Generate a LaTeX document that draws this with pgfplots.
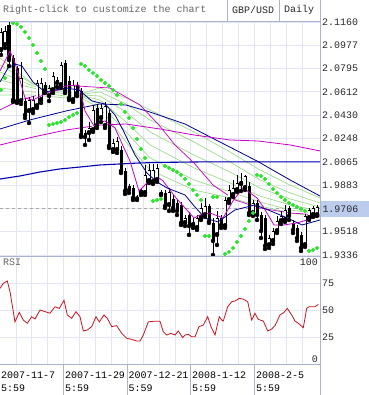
\documentclass[border=0pt]{standalone}
\usepackage{pgfplots}
\pgfplotsset{compat=1.18}
\usepackage{pgfplotstable}
\usepackage{fontspec}
\setmainfont{Liberation Sans}
\setmonofont{Liberation Mono}
\definecolor{framec}{RGB}{170,180,210}
\definecolor{gridc}{RGB}{226,230,243}
\definecolor{mag}{RGB}{200,0,200}
\definecolor{navyc}{RGB}{0,0,140}
\definecolor{longnavy}{RGB}{0,0,175}
\definecolor{lgreen}{RGB}{160,220,140}
\definecolor{sarc}{RGB}{40,230,40}
\definecolor{rsic}{RGB}{200,20,30}
\definecolor{curbg}{RGB}{188,204,236}
\definecolor{txt}{RGB}{40,40,40}

\pgfplotstableread{
x O H L C
1 2.0941 2.1113 2.0902 2.1082
5 2.0980 2.1129 2.0956 2.1090
9 2.1137 2.1160 2.0815 2.0862
13 2.0878 2.0902 2.0534 2.0549
17 2.0800 2.0815 2.0526 2.0541
21 2.0541 2.0847 2.0518 2.0721
25 2.0541 2.0565 2.0408 2.0432
29 2.0463 2.0573 2.0369 2.0549
33 2.0471 2.0580 2.0447 2.0549
37 2.0502 2.0706 2.0487 2.0682
41 2.0549 2.0721 2.0526 2.0682
45 2.0667 2.0690 2.0604 2.0627
49 2.0580 2.0667 2.0541 2.0643
53 2.0627 2.0768 2.0604 2.0737
57 2.0706 2.0729 2.0651 2.0682
61 2.0667 2.0847 2.0643 2.0823
65 2.0839 2.0862 2.0604 2.0620
69 2.0698 2.0737 2.0549 2.0565
73 2.0549 2.0706 2.0534 2.0667
77 2.0667 2.0690 2.0580 2.0604
81 2.0620 2.0643 2.0259 2.0275
85 2.0291 2.0314 2.0197 2.0259
89 2.0291 2.0377 2.0236 2.0330
93 2.0314 2.0510 2.0299 2.0471
97 2.0487 2.0518 2.0330 2.0353
101 2.0408 2.0518 2.0377 2.0487
105 2.0346 2.0534 2.0330 2.0502
109 2.0447 2.0471 2.0173 2.0189
113 2.0158 2.0244 2.0142 2.0212
117 2.0158 2.0259 2.0134 2.0228
121 2.0158 2.0189 1.9977 1.9993
125 1.9993 2.0017 1.9813 1.9836
129 1.9876 1.9891 1.9821 1.9844
133 1.9860 1.9883 1.9766 1.9782
137 1.9789 1.9805 1.9766 1.9778
141 1.9821 1.9860 1.9805 1.9844
145 1.9821 2.0040 1.9805 1.9962
149 1.9915 2.0048 1.9899 2.0001
153 1.9907 2.0048 1.9891 2.0001
157 1.9923 2.0048 1.9907 2.0017
161 1.9829 1.9844 1.9805 1.9813
165 1.9821 1.9844 1.9703 1.9719
169 1.9727 1.9860 1.9680 1.9829
173 1.9774 1.9805 1.9680 1.9703
177 1.9742 1.9766 1.9648 1.9680
181 1.9727 1.9750 1.9570 1.9586
185 1.9586 1.9648 1.9562 1.9625
189 1.9648 1.9672 1.9492 1.9562
193 1.9570 1.9625 1.9547 1.9594
197 1.9547 1.9648 1.9531 1.9625
201 1.9625 1.9742 1.9609 1.9703
205 1.9648 1.9782 1.9633 1.9719
209 1.9719 1.9735 1.9586 1.9601
213 1.9586 1.9625 1.9335 1.9445
217 1.9492 1.9680 1.9413 1.9625
221 1.9625 1.9648 1.9547 1.9570
225 1.9562 1.9789 1.9547 1.9766
229 1.9766 1.9883 1.9742 1.9844
233 1.9805 1.9923 1.9789 1.9860
237 1.9844 1.9962 1.9829 1.9899
241 1.9891 1.9977 1.9836 1.9915
245 1.9860 1.9962 1.9844 1.9954
249 1.9876 1.9907 1.9648 1.9664
253 1.9664 1.9766 1.9641 1.9742
257 1.9742 1.9766 1.9609 1.9648
261 1.9648 1.9672 1.9468 1.9523
265 1.9625 1.9648 1.9382 1.9406
269 1.9413 1.9492 1.9390 1.9468
273 1.9445 1.9547 1.9421 1.9523
277 1.9523 1.9641 1.9507 1.9601
281 1.9601 1.9680 1.9578 1.9641
285 1.9609 1.9727 1.9594 1.9688
289 1.9703 1.9719 1.9609 1.9641
293 1.9586 1.9609 1.9507 1.9531
297 1.9547 1.9570 1.9445 1.9468
301 1.9492 1.9515 1.9366 1.9390
305 1.9413 1.9656 1.9398 1.9641
309 1.9625 1.9703 1.9609 1.9688
313 1.9648 1.9719 1.9633 1.9703
317 1.9648 1.9727 1.9641 1.9711
}\ohlc

\begin{document}
\begin{tikzpicture}
\path[use as bounding box] (0,0) rectangle (369bp,395bp);
\fill[white] (0,0) rectangle (369bp,395bp);

% ---------------- price panel ----------------
\begin{axis}[
  at={(0bp,139bp)}, anchor=south west,
  scale only axis, width=320bp, height=235bp,
  xmin=0, xmax=320, ymin=1.9327, ymax=2.1168,
  axis line style={draw=none},
  xtick={15.9,31.8,47.7,63.6,79.5,95.4,111.3,127.2,143.1,159,174.9,190.8,206.7,222.6,238.5,254.4,270.3,286.2,302.1},
  xticklabels={},
  ytick={2.1160,2.0978,2.0795,2.0613,2.0430,2.0248,2.0065,1.9883,1.9701,1.9518,1.9336},
  yticklabels={2.1160,2.0977,2.0795,2.0612,2.0430,2.0248,2.0065,1.9883,,1.9518,1.9336},
  yticklabel pos=right,
  major tick length=0,
  grid=major, grid style={gridc, line width=0.7bp},
  yticklabel style={font=\ttfamily\fontsize{10}{12}\selectfont, text=txt, inner sep=2bp},
  clip=true,
]
% current price dashed line
\addplot[gray!70, dashed, dash pattern=on 3bp off 3bp, line width=0.6bp] coordinates {(0,1.9703) (320,1.9703)};
% light green ribbon
\addplot[lgreen, line width=0.7bp] coordinates {(0,2.0588)(33,2.0588)(66,2.0565)(100,2.0643)(126,2.0565)(150,2.0471)(194,2.0299)(230,2.0142)(260,2.0001)(290,1.9883)(320,1.9782)};
\addplot[lgreen, line width=0.7bp] coordinates {(0,2.0643)(33,2.0612)(66,2.0580)(100,2.0612)(126,2.0518)(150,2.0393)(194,2.0220)(230,2.0064)(260,1.9923)(290,1.9821)(320,1.9742)};
\addplot[lgreen, line width=0.7bp] coordinates {(0,2.0706)(33,2.0643)(66,2.0596)(100,2.0580)(126,2.0455)(150,2.0299)(194,2.0118)(230,1.9985)(260,1.9860)(290,1.9774)(320,1.9711)};
\addplot[lgreen, line width=0.7bp] coordinates {(0,2.0768)(33,2.0659)(66,2.0612)(100,2.0549)(126,2.0377)(150,2.0197)(194,2.0017)(230,1.9899)(260,1.9797)(290,1.9727)(320,1.9680)};
\addplot[lgreen, line width=0.7bp] coordinates {(0,2.0823)(33,2.0674)(66,2.0627)(100,2.0518)(126,2.0299)(150,2.0095)(194,1.9923)(230,1.9829)(260,1.9750)(290,1.9688)(320,1.9656)};
\addplot[lgreen, line width=0.7bp] coordinates {(0,2.0878)(33,2.0674)(66,2.0627)(100,2.0487)(126,2.0220)(150,2.0001)(194,1.9844)(230,1.9782)(260,1.9719)(290,1.9664)(320,1.9633)};
% long navy
\addplot[longnavy, line width=1.1bp] coordinates {(0,1.9930)(20,1.9954)(40,1.9985)(60,2.0009)(80,2.0024)(100,2.0040)(120,2.0048)(140,2.0056)(160,2.0060)(200,2.0064)(260,2.0064)(320,2.0064)};
% mid navy
\addplot[navyc, line width=0.8bp] coordinates {(0,2.0322)(30,2.0393)(66,2.0463)(100,2.0518)(126,2.0510)(150,2.0455)(185,2.0361)(220,2.0220)(257,2.0071)(290,1.9923)(320,1.9797)};
% long magenta
\addplot[mag, line width=0.8bp] coordinates {(0,2.0197)(33,2.0259)(66,2.0314)(100,2.0353)(126,2.0361)(160,2.0322)(194,2.0275)(230,2.0236)(258,2.0228)(290,2.0197)(320,2.0150)};
% medium magenta
\addplot[mag, line width=0.7bp] coordinates {(0,2.0471)(20,2.0549)(50,2.0612)(77,2.0659)(110,2.0643)(140,2.0510)(159,2.0353)(175,2.0197)(194,2.0056)(213,1.9883)(235,1.9766)(260,1.9703)(290,1.9664)(320,1.9648)};
% candles: wicks
\addplot[only marks, mark=none, error bars/.cd, y dir=plus, y explicit, error mark=none,
  error bar style={draw=black, line width=0.9bp}]
  table[x=x, y=L, y error plus expr={\thisrow{H}-\thisrow{L}}] {\ohlc};
% bodies
\addplot[only marks, mark=none, error bars/.cd, y dir=plus, y explicit, error mark=none,
  error bar style={draw=black, line width=3bp}]
  table[x=x, y expr={min(\thisrow{O},\thisrow{C})}, y error plus expr={abs(\thisrow{C}-\thisrow{O})}] {\ohlc};
% white inner bodies
\addplot[only marks, mark=none, restrict expr to domain={\thisrow{C}-\thisrow{O}}{0.0013:1},
  error bars/.cd, y dir=plus, y explicit, error mark=none,
  error bar style={draw=white, line width=1.5bp}]
  table[x=x, y expr={\thisrow{O}+0.0006}, y error plus expr={\thisrow{C}-\thisrow{O}-0.0012}] {\ohlc};
% short magenta
\addplot[mag, line width=0.8bp] coordinates {(0,2.0776)(10,2.0933)(15,2.0839)(25,2.0565)(33,2.0549)(53,2.0627)(66,2.0659)(79,2.0667)(85,2.0463)(94,2.0346)(99,2.0369)(105,2.0385)(115,2.0330)(124,2.0173)(130,2.0071)(139,1.9836)(149,1.9915)(159,1.9938)(163,1.9915)(176,1.9782)(194,1.9625)(200,1.9648)(210,1.9664)(223,1.9625)(233,1.9758)(243,1.9860)(257,1.9782)(264,1.9703)(274,1.9570)(284,1.9570)(297,1.9586)(307,1.9609)(320,1.9641)};
% short navy
\addplot[navyc, line width=0.8bp] coordinates {(0,2.0690)(8,2.0800)(15,2.0831)(22,2.0815)(33,2.0690)(45,2.0612)(66,2.0643)(79,2.0627)(92,2.0541)(105,2.0518)(115,2.0432)(123,2.0314)(135,2.0118)(147,1.9977)(157,1.9907)(167,1.9860)(185,1.9805)(195,1.9711)(205,1.9625)(218,1.9594)(235,1.9688)(255,1.9727)(268,1.9688)(285,1.9633)(302,1.9570)(320,1.9609)};
% parabolic SAR
\addplot[only marks, mark=*, mark size=1.8bp, sarc, mark options={draw=sarc, fill=sarc}] coordinates {
(1,2.0627)(5,2.0721)
(13,2.1152)(17,2.1144)(21,2.1121)(25,2.1082)(29,2.1035)(33,2.0980)(37,2.0917)(41,2.0855)(45,2.0792)
(49,2.0353)(53,2.0361)(57,2.0369)(61,2.0377)(65,2.0393)(69,2.0416)(73,2.0432)(77,2.0447)
(81,2.0831)(85,2.0815)(89,2.0784)(93,2.0761)(97,2.0737)(101,2.0706)(105,2.0682)(109,2.0659)(113,2.0627)(117,2.0588)(121,2.0518)(125,2.0455)(129,2.0408)(133,2.0330)(137,2.0244)(141,2.0165)(145,2.0095)
(153,1.9758)(157,1.9766)(161,1.9774)
(165,2.0032)(169,2.0017)(173,2.0001)(177,1.9985)(181,1.9962)(185,1.9930)(189,1.9891)(193,1.9844)(197,1.9805)(201,1.9766)
(205,1.9484)(209,1.9484)
(213,1.9789)(217,1.9789)
(225,1.9343)(229,1.9359)(233,1.9390)(237,1.9437)(241,1.9484)(245,1.9539)(249,1.9601)(253,1.9664)
(257,1.9962)(261,1.9954)(265,1.9930)(269,1.9891)(273,1.9852)(277,1.9821)(281,1.9789)(285,1.9766)(289,1.9742)(293,1.9727)(297,1.9711)(301,1.9695)(305,1.9680)
(309,1.9366)(313,1.9374)(317,1.9390)};
\end{axis}

% ---------------- RSI panel ----------------
\begin{axis}[
  at={(0bp,31bp)}, anchor=south west,
  scale only axis, width=320bp, height=108bp,
  xmin=0, xmax=320, ymin=0, ymax=100,
  axis line style={draw=none},
  xtick={15.9,31.8,47.7,63.6,79.5,95.4,111.3,127.2,143.1,159,174.9,190.8,206.7,222.6,238.5,254.4,270.3,286.2,302.1},
  xticklabels={},
  ytick={25,50,75}, yticklabels={25,50,75},
  yticklabel pos=right,
  major tick length=0,
  grid=major, grid style={gridc, line width=0.7bp},
  yticklabel style={font=\ttfamily\fontsize{10}{12}\selectfont, text=txt, inner sep=2bp},
]
\addplot[rsic, line width=0.8bp] coordinates {
(0,70)(3.3,74.7)(7.3,76.8)(10,67)(15,39)(19.3,47.8)(23.3,40.7)(27.3,37.7)(31.7,43.8)(35,41.7)(40,50)(45,48.5)(50,47)(55,53)(59.3,51.5)(64,59)(67.3,45.4)(71.7,42.3)(76,48.5)(80,43.8)(83.3,30.6)(87.3,31.5)(91.7,34.6)(96,43.8)(99.3,39)(104,45.4)(107.3,42.3)(111.7,34.6)(116.7,35.5)(121.7,28.4)(126.7,23.8)(131.7,22.8)(136.7,21.3)(140,21.3)(143.3,26.8)(148.3,39)(153.3,39.5)(160,39.5)(163.3,29.9)(166.7,26.8)(170.7,28.4)(175,26.8)(178.3,30.6)(182.7,24.4)(185,26.8)(188.3,27.5)(191.7,25.2)(195,25.2)(199,34.6)(203.3,36)(207.7,43.8)(211,34.6)(215,26.8)(219.3,43.8)(221.7,40.7)(223.3,39.8)(227.7,53)(231.7,57.7)(235,58.3)(239.3,60.8)(243.3,60)(247.7,57.7)(251.7,40.7)(255,46.9)(258.3,41.3)(263.3,39.8)(267.7,30.6)(271.7,32.4)(275,35.5)(280,45.4)(284,47.8)(287.3,51.5)(291.7,45.4)(295,39.8)(298.3,37.7)(303.3,33.6)(306.7,51.5)(309,53)(315,53)(318.3,55.2)};
\end{axis}

% ---------------- frame and texts ----------------
\draw[framec, line width=0.8bp] (320bp,0) -- (320bp,395bp);
\draw[framec, line width=0.8bp] (0,374bp) -- (320bp,374bp);
\draw[framec, line width=0.8bp] (0,139bp) -- (320bp,139bp);
\draw[framec, line width=0.8bp] (0,31bp) -- (320bp,31bp);
\draw[framec, line width=0.8bp] (227bp,374bp) -- (227bp,395bp);
\draw[framec, line width=0.8bp] (279bp,374bp) -- (279bp,395bp);
\foreach \xx in {63.6,127.2,190.8,254.4} {\draw[framec, line width=0.8bp] (\xx bp,0) -- (\xx bp,31bp);}

\fill[curbg] (320.6bp,178bp) rectangle (369bp,194bp);
\node[anchor=west, inner sep=0, font=\ttfamily\fontsize{10}{12}\selectfont, text=txt] at (322.3bp,186bp) {1.9706};

\begin{scope}[every node/.style={anchor=west, inner sep=0, font=\ttfamily\fontsize{10}{12}\selectfont}]
\node[text=black!60] at (3bp,385bp) {Right-click to customize the chart};
\node[text=txt] at (232bp,385bp) {GBP/USD};
\node[text=txt] at (284bp,385bp) {Daily};
\node[text=black!60] at (3bp,133bp) {RSI};
\node[text=txt, anchor=east] at (318bp,133bp) {100};
\node[text=txt, anchor=east] at (318bp,36bp) {0};
\node[text=black] at (1bp,20bp) {2007-11-7};
\node[text=black] at (1bp,7bp) {5:59};
\node[text=black] at (65bp,20bp) {2007-11-29};
\node[text=black] at (65bp,7bp) {5:59};
\node[text=black] at (128.5bp,20bp) {2007-12-21};
\node[text=black] at (128.5bp,7bp) {5:59};
\node[text=black] at (192bp,20bp) {2008-1-12};
\node[text=black] at (192bp,7bp) {5:59};
\node[text=black] at (256bp,20bp) {2008-2-5};
\node[text=black] at (256bp,7bp) {5:59};
\end{scope}
\end{tikzpicture}
\end{document}
